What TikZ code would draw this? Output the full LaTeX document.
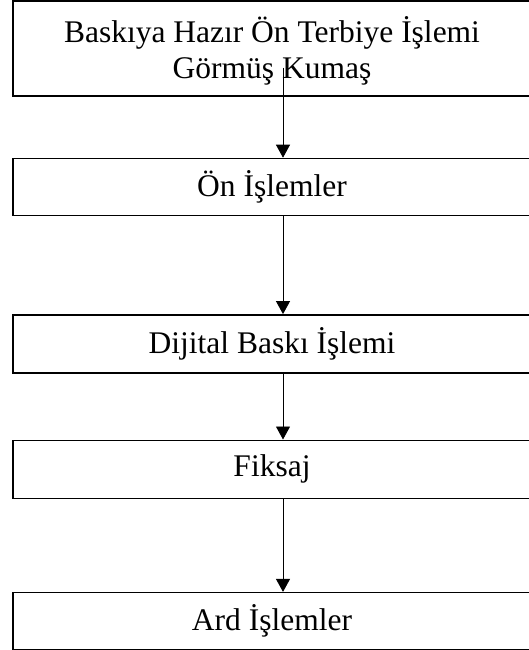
\documentclass[tikz,border=0pt]{standalone}
\usepackage{fontspec}
\setmainfont{Liberation Serif}
\usetikzlibrary{positioning,arrows.meta}

\tikzset{
  stepbox/.style={draw, line width=1.4pt, minimum width=518pt, inner sep=0pt,
    align=center, font=\fontsize{31.5}{36.6}\selectfont},
  arr/.style={line width=0.9pt, -{Triangle[width=14pt,length=13pt]}}
}

\begin{document}
\begin{tikzpicture}[x=1pt,y=1pt]
				\useasboundingbox (0,0) rectangle (529,-650);
				% boxes
				\node[stepbox, minimum height=95pt, text height=67pt] (kumas) at (272,-48.5) {Baskıya Hazır Ön Terbiye İşlemi\\Görmüş Kumaş};
				\node[stepbox, minimum height=57pt, below=61pt of kumas] (on) {Ön İşlemler};
				\node[stepbox, minimum height=58pt, below=98pt of on] (baski) {Dijital Baskı İşlemi};
				\node[stepbox, minimum height=58pt, below=66pt of baski] (fiksaj) {Fiksaj};
				\node[stepbox, minimum height=57pt, below=93pt of fiksaj] (ard) {Ard İşlemler};
				% arrows
				\coordinate (start) at ([xshift=11pt,yshift=29pt]kumas.south);
				\draw[arr] (start) -- (start |- on.north);
				\draw[arr] ([xshift=11pt]on.south) -- ([xshift=11pt]baski.north);
				\draw[arr] ([xshift=11pt]baski.south) -- ([xshift=11pt]fiksaj.north);
				\draw[arr] ([xshift=11pt]fiksaj.south) -- ([xshift=11pt]ard.north);
\end{tikzpicture}
\end{document}
